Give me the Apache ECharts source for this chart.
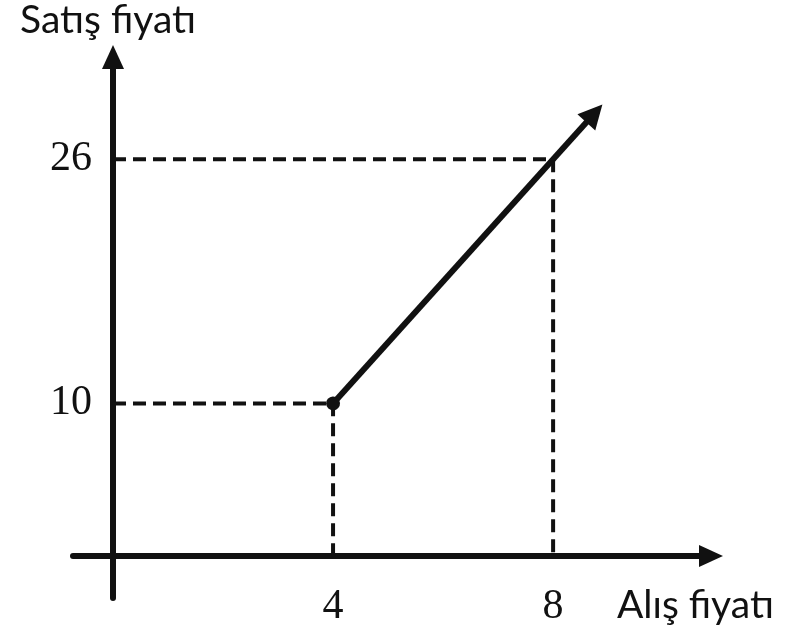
<!DOCTYPE html>
<html>
<head>
<meta charset="utf-8">
<script src="https://cdn.jsdelivr.net/npm/echarts@6/dist/echarts.min.js"></script>
<style>
  html, body { margin: 0; padding: 0; background: #fff; }
  #chart { width: 796px; height: 630px; }
</style>
</head>
<body>
<div id="chart"></div>
<script>
// Purchase price (x) and sale price (y) of the marked points
const purchasePrices = [4, 8];
const salePrices = [10, 26];
// Where the price line continues to (arrow head)
const lineEnd = [8.75, 29];
// Axis texts
const xAxisTitle = 'Alış fiyatı';
const yAxisTitle = 'Satış fiyatı';

const dash = [13, 7];
const ink = '#111';

// Dashed guides from each point down to the x axis and across to the y axis
const guideSeries = purchasePrices.map((x, i) => ({
  type: 'line',
  data: [[0, salePrices[i]], [x, salePrices[i]], [x, 0]],
  symbol: 'none',
  silent: true,
  lineStyle: { color: ink, width: 4, type: dash },
  z: 2
}));

const chart = echarts.init(document.getElementById('chart'));
chart.setOption({
  animation: false,
  backgroundColor: '#fff',
  grid: { left: 73, right: 85, top: 57, bottom: 32, outerBoundsMode: 'none', containLabel: false },
  xAxis: {
    type: 'value',
    min: -0.727,
    max: 10.87,
    axisLine: {
      onZero: true,
      symbol: ['none', 'triangle'],
      symbolSize: [22, 24],
      lineStyle: { color: ink, width: 6 }
    },
    axisTick: { show: false },
    splitLine: { show: false },
    axisLabel: {
      customValues: purchasePrices,
      margin: -12,
      fontFamily: 'Liberation Serif',
      fontSize: 42,
      color: ink
    }
  },
  yAxis: {
    type: 'value',
    min: -2.75,
    max: 32.7,
    axisLine: {
      onZero: true,
      symbol: ['none', 'triangle'],
      symbolSize: [22, 24],
      lineStyle: { color: ink, width: 6 }
    },
    axisTick: { show: false },
    splitLine: { show: false },
    axisLabel: {
      customValues: salePrices,
      margin: -19,
      fontFamily: 'Liberation Serif',
      fontSize: 42,
      color: ink
    }
  },
  graphic: [
    {
      type: 'text', left: 20, top: 1,
      style: { text: yAxisTitle, font: '39px Lato', fill: ink }
    },
    {
      type: 'text', left: 617, top: 586,
      style: { text: xAxisTitle, font: '39px Lato', fill: ink }
    }
  ],
  series: guideSeries.concat([
    {
      type: 'lines',
      coordinateSystem: 'cartesian2d',
      polyline: false,
      symbol: ['circle', 'triangle'],
      symbolSize: [14, 24],
      lineStyle: { color: ink, width: 6, opacity: 1 },
      itemStyle: { color: ink },
      data: [{ coords: [[purchasePrices[0], salePrices[0]], lineEnd] }],
      z: 5
    }
  ])
});
</script>
</body>
</html>
